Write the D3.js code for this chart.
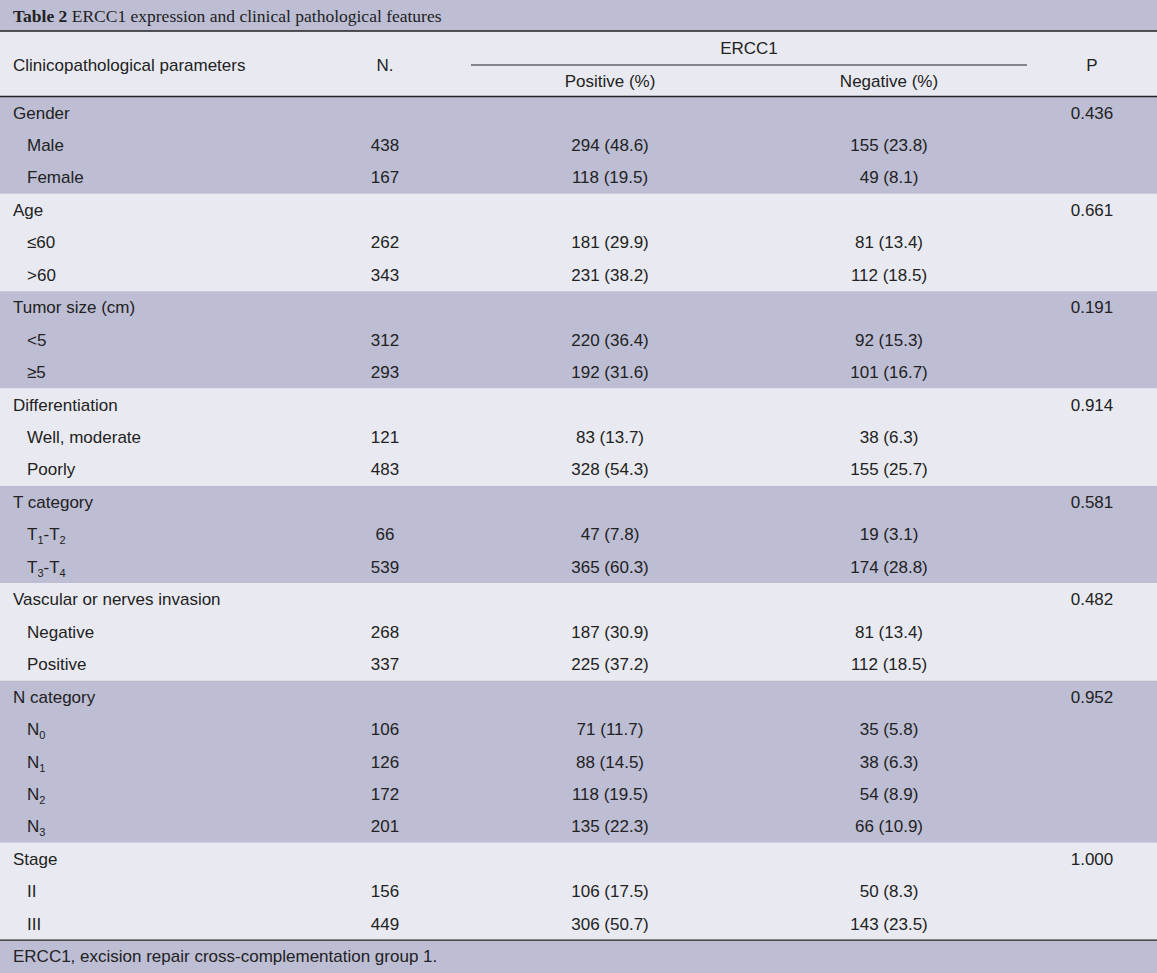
<!DOCTYPE html>
<html><head><meta charset="utf-8">
<script src="https://cdn.jsdelivr.net/npm/d3@7"></script>
<style>body{margin:0;background:#fff}svg{display:block}</style>
</head><body>
<script>
const groups = ["Gender","Age","Tumor size (cm)","Differentiation","T category","Vascular or nerves invasion","N category","Stage"];
const pValues = ["0.436","0.661","0.191","0.914","0.581","0.482","0.952","1.000"];
const subLabels = [
  [["Male"],["Female"]],
  [["≤60"],[">60"]],
  [["<5"],["≥5"]],
  [["Well, moderate"],["Poorly"]],
  [["T","1","-T","2"],["T","3","-T","4"]],
  [["Negative"],["Positive"]],
  [["N","0"],["N","1"],["N","2"],["N","3"]],
  [["II"],["III"]]
];
const nValues = [[438,167],[262,343],[312,293],[121,483],[66,539],[268,337],[106,126,172,201],[156,449]];
const posValues = [["294 (48.6)","118 (19.5)"],["181 (29.9)","231 (38.2)"],["220 (36.4)","192 (31.6)"],["83 (13.7)","328 (54.3)"],["47 (7.8)","365 (60.3)"],["187 (30.9)","225 (37.2)"],["71 (11.7)","88 (14.5)","118 (19.5)","135 (22.3)"],["106 (17.5)","306 (50.7)"]];
const negValues = [["155 (23.8)","49 (8.1)"],["81 (13.4)","112 (18.5)"],["92 (15.3)","101 (16.7)"],["38 (6.3)","155 (25.7)"],["19 (3.1)","174 (28.8)"],["81 (13.4)","112 (18.5)"],["35 (5.8)","38 (6.3)","54 (8.9)","66 (10.9)"],["50 (8.3)","143 (23.5)"]];

(function(){
const W=1157,H=973, dark="#bdbdd4", light="#e9eaf1", rowH=32.45, topY=96.5;
const font="'Liberation Sans', Arial, sans-serif";
const svg=d3.select("body").append("svg").attr("width",W).attr("height",H);
const x=d3.scaleOrdinal().domain(["label","n","pos","neg","p"]).range([13,385,610,889,1092]);

svg.append("rect").attr("width",W).attr("height",31).attr("fill",dark);
svg.append("rect").attr("y",31).attr("width",W).attr("height",topY-31).attr("fill",light);
const t=svg.append("text").attr("x",13).attr("y",22).attr("font-family","'Liberation Serif', 'Times New Roman', serif").attr("font-size",17.5).attr("fill","#222");
t.append("tspan").attr("font-weight","bold").text("Table 2 ");
t.append("tspan").text("ERCC1 expression and clinical pathological features");

const hdr=(xx,y,s,anchor)=>svg.append("text").attr("x",xx).attr("y",y).attr("font-family",font).attr("font-size",17).attr("fill","#222").attr("text-anchor",anchor||"middle").text(s);
hdr(13,71,"Clinicopathological parameters","start");
hdr(x("n"),71,"N.");
hdr(749,54,"ERCC1");
hdr(x("pos"),87,"Positive (%)");
hdr(x("neg"),87,"Negative (%)");
hdr(x("p"),71,"P");
svg.append("line").attr("x1",471).attr("x2",1027).attr("y1",65).attr("y2",65).attr("stroke","#222").attr("stroke-width",1);

let y=topY;
groups.forEach((g,gi)=>{
  const nRows=1+nValues[gi].length;
  svg.append("rect").attr("y",y).attr("width",W).attr("height",nRows*rowH).attr("fill",gi%2?light:dark);
  const cell=(xx,r,s,anchor)=>svg.append("text").attr("x",xx).attr("y",y+r*rowH+22).attr("font-family",font).attr("font-size",17).attr("fill","#222").attr("text-anchor",anchor||"middle").text(s);
  cell(x("label"),0,g,"start");
  cell(x("p"),0,pValues[gi]);
  nValues[gi].forEach((n,i)=>{
    const parts=subLabels[gi][i];
    const tx=svg.append("text").attr("x",27).attr("y",y+(i+1)*rowH+22).attr("font-family",font).attr("font-size",17).attr("fill","#222");
    parts.forEach((p,k)=>{ const sp=tx.append("tspan").text(p); if(k%2===1) sp.attr("font-size",11).attr("dy",4); else if(k>0) sp.attr("dy",-4); });
    cell(x("n"),i+1,n);
    cell(x("pos"),i+1,posValues[gi][i]);
    cell(x("neg"),i+1,negValues[gi][i]);
  });
  y+=nRows*rowH;
});
svg.append("rect").attr("y",y).attr("width",W).attr("height",H-y).attr("fill",dark);
svg.append("text").attr("x",13).attr("y",y+22).attr("font-family",font).attr("font-size",17).attr("fill","#222").text("ERCC1, excision repair cross-complementation group 1.");
[31,topY,y].forEach(v=>svg.append("line").attr("x1",0).attr("x2",W).attr("y1",v).attr("y2",v).attr("stroke","#222").attr("stroke-width",1.3));
})();
</script>
</body></html>
